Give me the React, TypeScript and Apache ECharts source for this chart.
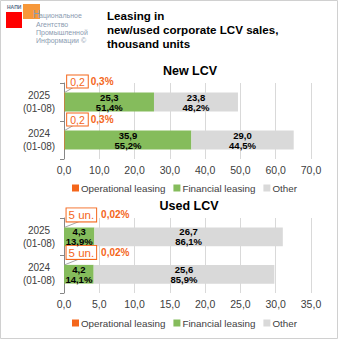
import React, { useEffect, useRef } from "react";
import * as echarts from "echarts";

const categories = ["2024\n(01-08)", "2025\n(01-08)"];

// New LCV (thousand units)
const newOperational = [0.2, 0.2];
const newFinancial = [35.9, 25.3];
const newOther = [29.0, 23.8];
const newOperationalLabel = ["0,2", "0,2"];
const newOperationalPct = ["0,3%", "0,3%"];
const newFinancialPct = ["55,2%", "51,4%"];
const newOtherPct = ["44,5%", "48,2%"];

// Used LCV (thousand units)
const usedOperational = [0.005, 0.005];
const usedFinancial = [4.2, 4.3];
const usedOther = [25.6, 26.7];
const usedOperationalLabel = ["5 un.", "5 un."];
const usedOperationalPct = ["0,02%", "0,02%"];
const usedFinancialPct = ["14,1%", "13,9%"];
const usedOtherPct = ["85,9%", "86,1%"];

const seriesNames = ["Operational leasing", "Financial leasing", "Other"];

const ORANGE = "#F4661B";
const GREEN = "#85BC5C";
const GRAY = "#D9D9D9";
const FONT = "Liberation Sans";

const fmt = (v: number) => v.toFixed(1).replace(".", ",");

export default function App() {
  const ref = useRef<HTMLDivElement>(null);
  useEffect(() => {
    if (!ref.current) return;
    const chart = echarts.init(ref.current, null, { renderer: "svg" });

    const valueLabel = (pcts: string[]) => ({
      show: true,
      position: "inside",
      fontFamily: FONT,
      fontSize: 9.5,
      fontWeight: "bold",
      color: "#000",
      lineHeight: 10,
      formatter: (p: any) => fmt(p.value) + "\n" + pcts[p.dataIndex],
    });

    const opLabel = (vals: string[], pcts: string[], big: boolean) => ({
      show: true,
      position: "top",
      distance: 5,
      fontFamily: FONT,
      formatter: (p: any) => "{box|" + vals[p.dataIndex] + "}{pct|" + pcts[p.dataIndex] + "}",
      rich: {
        box: {
          fontFamily: FONT,
          fontSize: big ? 11.5 : 10.5,
          lineHeight: big ? 11 : 10,
          color: ORANGE,
          borderColor: ORANGE,
          borderWidth: 1,
          backgroundColor: "#fff",
          padding: big ? [1, 2, 0, 2] : [1, 3, 0, 3],
        },
        pct: {
          fontFamily: FONT,
          fontSize: 10,
          lineHeight: 10,
          fontWeight: "bold",
          color: ORANGE,
          padding: big ? [0, 0, 0, 5] : [0, 0, 0, 3],
        },
      },
    });

    // leader line from the top-left corner of the tiny operational bar to its label box
    const leader = (xi: number, op: number[], ex: number, ey: number) => ({
      name: "leader" + xi,
      type: "custom",
      xAxisIndex: xi,
      yAxisIndex: xi,
      silent: true,
      z: 1,
      data: op.map((_, i) => [0, i]),
      renderItem: (params: any, api: any) => {
        const p = api.coord([api.value(0), api.value(1)]);
        const band = api.size([0, 1])[1];
        const top = p[1] - band * 0.25;
        return {
          type: "line",
          shape: { x1: p[0] + 0.5, y1: top, x2: p[0] + ex, y2: top - ey },
          style: { stroke: "#A6A6A6", lineWidth: 1 },
        };
      },
    });

    const mkSeries = (
      xi: number,
      op: number[],
      fin: number[],
      other: number[],
      opVals: string[],
      opPcts: string[],
      finPcts: string[],
      otherPcts: string[],
      big: boolean,
      dx: number,
      dy: number
    ) => [
      {
        name: seriesNames[0],
        type: "bar",
        stack: "s" + xi,
        xAxisIndex: xi,
        yAxisIndex: xi,
        barWidth: "50%",
        data: op,
        itemStyle: { color: ORANGE },
        label: opLabel(opVals, opPcts, big),
        labelLayout: { dx, dy },
        z: 3,
      },
      {
        name: seriesNames[1],
        type: "bar",
        stack: "s" + xi,
        xAxisIndex: xi,
        yAxisIndex: xi,
        data: fin,
        itemStyle: { color: GREEN },
        label: valueLabel(finPcts),
        z: 3,
      },
      {
        name: seriesNames[2],
        type: "bar",
        stack: "s" + xi,
        xAxisIndex: xi,
        yAxisIndex: xi,
        data: other,
        itemStyle: { color: GRAY },
        label: valueLabel(otherPcts),
        z: 3,
      },
    ];

    const xAxisCommon = {
      type: "value",
      min: 0,
      axisLine: { show: false },
      axisTick: { show: false },
      splitLine: { lineStyle: { color: "#D9D9D9" } },
      axisLabel: {
        fontFamily: FONT,
        fontSize: 10.5,
        color: "#404040",
        margin: 5,
        formatter: (v: number) => fmt(v),
      },
    };
    const yAxisCommon = {
      type: "category",
      data: categories,
      axisLine: { show: true, lineStyle: { color: "#868686" } },
      axisTick: { show: true, length: 4, lineStyle: { color: "#868686" } },
      axisLabel: {
        fontFamily: FONT,
        fontSize: 10,
        color: "#404040",
        lineHeight: 13,
        align: "center",
        margin: 25,
      },
    };

    const legendCommon = {
      data: seriesNames,
      icon: "rect",
      itemWidth: 7,
      itemHeight: 7,
      itemGap: 8,
      left: 67,
      textStyle: { fontFamily: FONT, fontSize: 9.8, color: "#404040", padding: [0, 0, 0, -3] },
    };

    chart.setOption({
      animation: false,
      title: [
        {
          text: "Leasing in\nnew/used corporate LCV sales,\nthousand units",
          left: 102,
          top: 3,
          textStyle: {
            fontFamily: FONT,
            fontSize: 11.6,
            fontWeight: "bold",
            color: "#000",
            lineHeight: 14,
          },
        },
        {
          text: "New LCV",
          left: 185,
          top: 59,
          textAlign: "center",
          textStyle: { fontFamily: FONT, fontSize: 12.5, fontWeight: "bold", color: "#000" },
        },
        {
          text: "Used LCV",
          left: 184,
          top: 194,
          textAlign: "center",
          textStyle: { fontFamily: FONT, fontSize: 12.5, fontWeight: "bold", color: "#000" },
        },
      ],
      legend: [
        { ...legendCommon, top: 178 },
        { ...legendCommon, top: 313 },
      ],
      grid: [
        { left: 64, right: 29, top: 83, height: 76, containLabel: false },
        { left: 64, right: 29, top: 218, height: 75, containLabel: false },
      ],
      xAxis: [
        { ...xAxisCommon, gridIndex: 0, max: 70, interval: 10 },
        { ...xAxisCommon, gridIndex: 1, max: 35, interval: 5 },
      ],
      yAxis: [
        { ...yAxisCommon, gridIndex: 0 },
        { ...yAxisCommon, gridIndex: 1 },
      ],
      series: [
        ...mkSeries(0, newOperational, newFinancial, newOther, newOperationalLabel, newOperationalPct, newFinancialPct, newOtherPct, false, 26, -1),
        ...mkSeries(1, usedOperational, usedFinancial, usedOther, usedOperationalLabel, usedOperationalPct, usedFinancialPct, usedOtherPct, true, 34, -2),
        leader(0, newOperational, 11, 6),
        leader(1, usedOperational, 18, 7),
      ],
      graphic: [
        {
          type: "rect",
          shape: { x: 0.5, y: 0.5, width: 337, height: 338 },
          style: { fill: "none", stroke: "#D0D0D0", lineWidth: 1 },
          silent: true,
        },
        { type: "rect", shape: { x: 6, y: 12, width: 16, height: 16 }, style: { fill: "#FF0000" } },
        { type: "rect", shape: { x: 23, y: 4, width: 17, height: 15 }, style: { fill: "#F7983A" } },
        {
          type: "text",
          x: 7,
          y: 4,
          style: { text: "НАПИ", fontFamily: FONT, fontSize: 5, fontWeight: "bold", fill: "#5B6F8A" },
        },
        {
          type: "text",
          x: 33,
          y: 9,
          style: { text: "Н", fontFamily: FONT, fontSize: 10, fill: "#8A9BB0" },
        },
        {
          type: "text",
          x: 39,
          y: 12,
          style: { text: "ациональное", fontFamily: FONT, fontSize: 7, fill: "#8A9BB0" },
        },
        {
          type: "text",
          x: 36,
          y: 20,
          style: {
            text: "Агентство\nПромышленной\nИнформации ©",
            fontFamily: FONT,
            fontSize: 7,
            lineHeight: 8,
            fill: "#8A9BB0",
          },
        },
      ],
    });
    return () => chart.dispose();
  }, []);
  return (
    <div
      ref={ref}
      style={{ position: "absolute", left: 0, top: 0, width: 340, height: 340, background: "#fff" }}
    />
  );
}
